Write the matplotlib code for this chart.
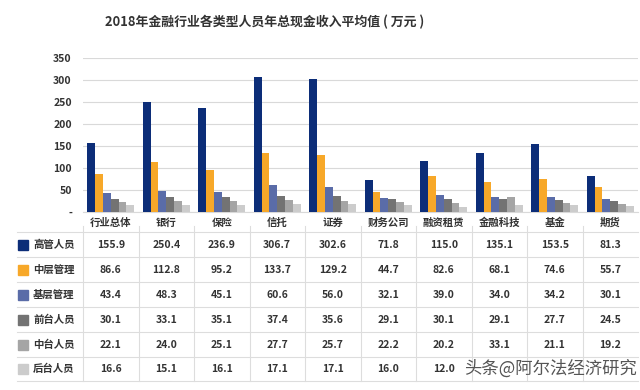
import numpy as np
import matplotlib.pyplot as plt

plt.rcParams['font.family'] = ['Noto Sans CJK SC', 'DejaVu Sans']

# data
categories = ['行业总体', '银行', '保险', '信托', '证券', '财务公司', '融资租赁', '金融科技', '基金', '期货']
series_names = ['高管人员', '中层管理', '基层管理', '前台人员', '中台人员', '后台人员']
senior = [155.9, 250.4, 236.9, 306.7, 302.6, 71.8, 115.0, 135.1, 153.5, 81.3]
middle = [86.6, 112.8, 95.2, 133.7, 129.2, 44.7, 82.6, 68.1, 74.6, 55.7]
junior = [43.4, 48.3, 45.1, 60.6, 56.0, 32.1, 39.0, 34.0, 34.2, 30.1]
front = [30.1, 33.1, 35.1, 37.4, 35.6, 29.1, 30.1, 29.1, 27.7, 24.5]
mid_office = [22.1, 24.0, 25.1, 27.7, 25.7, 22.2, 20.2, 33.1, 21.1, 19.2]
back_office = [16.6, 15.1, 16.1, 17.1, 17.1, 16.0, 12.0, 15.0, 14.8, 13.0]  # last 3 estimated (hidden by watermark)
hidden_back = [7, 8, 9]  # table cells covered by the watermark
yticks = [0, 50, 100, 150, 200, 250, 300, 350]
ytick_labels = ['-', '50', '100', '150', '200', '250', '300', '350']

series = [senior, middle, junior, front, mid_office, back_office]
colors = ['#0c2d78', '#f7a829', '#5a6ca8', '#737373', '#a5a5a5', '#cccccc']

W, H = 640, 390
fig = plt.figure(figsize=(6.4, 3.9), dpi=100)


def fx(x):
    return x / W


def fy(y):
    return 1 - y / H


# chart area
left, right, top, bottom = 83, 638, 58, 212
ax = fig.add_axes([fx(left), fy(bottom), (right - left) / W, (bottom - top) / H])
x = np.arange(len(categories))
bw = 0.14
for i, vals in enumerate(series):
    ax.bar(x + (i - 2.5) * bw, vals, width=bw, color=colors[i], zorder=3)

ax.set_xlim(-0.5, len(categories) - 0.5)
ax.set_ylim(0, 350)
ax.set_yticks(yticks)
ax.set_yticklabels(ytick_labels, fontsize=7.5, fontweight='bold', color='#333333')
ax.set_xticks(x)
ax.set_xticklabels(categories, fontsize=7.5, fontweight='bold', color='#333333')
ax.tick_params(length=0, pad=8)
ax.tick_params(axis='x', pad=4)
ax.grid(axis='y', color='#d9d9d9', linewidth=0.8, zorder=0)
for s in ['top', 'right', 'left']:
    ax.spines[s].set_visible(False)
ax.spines['bottom'].set_color('#d9d9d9')

# title
fig.text(fx(265), fy(22), '2018年金融行业各类型人员年总现金收入平均值 ( 万元 )',
         ha='center', va='center', fontsize=9.3, fontweight='bold', color='#333333')

# data table
col_w = (right - left) / len(categories)
row_y = [245, 270, 295, 320, 344.5, 369]
row_lines = [232, 257, 282, 307, 332, 357, 381]
line_color = '#dddddd'
for ly in row_lines:
    fig.add_artist(plt.Line2D([fx(17), fx(right)], [fy(ly), fy(ly)], color=line_color, linewidth=0.8))
for j in range(len(categories)):
    xl = left + j * col_w
    fig.add_artist(plt.Line2D([fx(xl), fx(xl)], [fy(226), fy(381)], color=line_color, linewidth=0.8))

for i, (name, vals) in enumerate(zip(series_names, series)):
    yy = row_y[i]
    fig.add_artist(plt.Rectangle((fx(18), fy(yy + 5)), 10 / W, 10 / H, color=colors[i]))
    fig.text(fx(33), fy(yy), name, ha='left', va='center', fontsize=7.5,
             fontweight='bold', color='#333333')
    for j, v in enumerate(vals):
        if i == len(series) - 1 and j in hidden_back:
            continue
        fig.text(fx(left + (j + 0.5) * col_w), fy(yy), f'{v:.1f}', ha='center', va='center',
                 fontsize=7.5, fontweight='bold', color='#333333')

# watermark
fig.text(fx(464), fy(369), '头条@阿尔法经济研究', ha='left', va='center', fontsize=12.5,
         color='#555555')

fig.savefig('out.png', dpi=100)
